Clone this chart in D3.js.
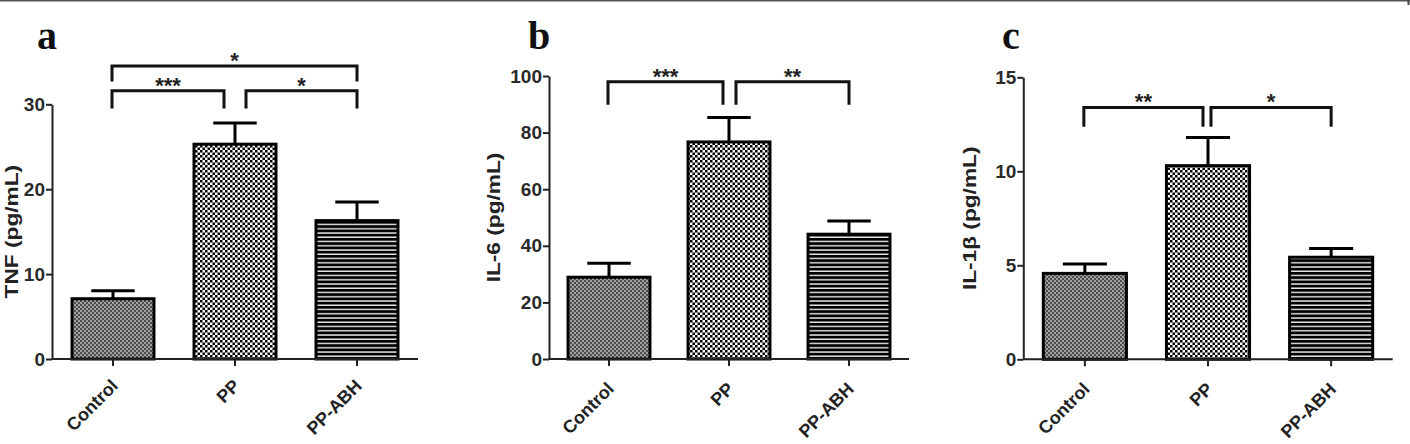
<!DOCTYPE html>
<html>
<head>
<meta charset="utf-8">
<script src="https://cdn.jsdelivr.net/npm/d3@7/dist/d3.min.js"></script>
<style>
  html, body { margin: 0; padding: 0; background: #fff; }
  svg { display: block; }
  text.sans { font-family: "Liberation Sans", Arial, sans-serif; }
  text.serif { font-family: "Liberation Serif", "Times New Roman", serif; }
</style>
</head>
<body>
<svg id="chart" width="1410" height="444"></svg>
<script>
// ---------- data ----------
const categories = ["Control", "PP", "PP-ABH"];

const tnfMeans  = [7.1, 25.3, 16.3];
const tnfSem    = [0.95, 2.5, 2.2];
const tnfTicks  = [0, 10, 20, 30];
const tnfSig    = [
  { from: 0, to: 1, label: "***", line: 31.6, leg: 29.5 },
  { from: 1, to: 2, label: "*",   line: 31.6, leg: 29.5 },
  { from: 0, to: 2, label: "*",   line: 34.5, leg: 32.7 }
];

const il6Means  = [28.9, 76.7, 44.1];
const il6Sem    = [4.9, 8.6, 4.7];
const il6Ticks  = [0, 20, 40, 60, 80, 100];
const il6Sig    = [
  { from: 0, to: 1, label: "***", line: 98.0, leg: 89.8 },
  { from: 1, to: 2, label: "**",  line: 98.0, leg: 89.8 }
];

const il1bMeans = [4.57, 10.3, 5.43];
const il1bSem   = [0.5, 1.5, 0.47];
const il1bTicks = [0, 5, 10, 15];
const il1bSig   = [
  { from: 0, to: 1, label: "**", line: 13.4, leg: 12.37 },
  { from: 1, to: 2, label: "*",  line: 13.4, leg: 12.37 }
];

// ---------- drawing ----------
const svg = d3.select("#chart");

// patterns
const defs = svg.append("defs");
const pCtl = defs.append("pattern").attr("id", "pCtl").attr("patternUnits", "userSpaceOnUse")
  .attr("width", 4).attr("height", 4);
pCtl.append("rect").attr("width", 4).attr("height", 4).attr("fill", "#a0a0a0");
pCtl.append("rect").attr("width", 2).attr("height", 2).attr("fill", "#4e4e4e");
pCtl.append("rect").attr("x", 2).attr("y", 2).attr("width", 2).attr("height", 2).attr("fill", "#4e4e4e");

const pPP = defs.append("pattern").attr("id", "pPP").attr("patternUnits", "userSpaceOnUse")
  .attr("width", 5).attr("height", 5);
pPP.append("rect").attr("width", 5).attr("height", 5).attr("fill", "#fff");
pPP.append("rect").attr("width", 2.5).attr("height", 2.5).attr("fill", "#000");
pPP.append("rect").attr("x", 2.5).attr("y", 2.5).attr("width", 2.5).attr("height", 2.5).attr("fill", "#000");

const pAbh = defs.append("pattern").attr("id", "pAbh").attr("patternUnits", "userSpaceOnUse")
  .attr("width", 10).attr("height", 4.25);
pAbh.append("rect").attr("width", 10).attr("height", 4.25).attr("fill", "#e8e8e8");
pAbh.append("rect").attr("width", 10).attr("height", 2.8).attr("fill", "#000");

const fills = ["url(#pCtl)", "url(#pPP)", "url(#pAbh)"];

// top frame line
svg.append("line").attr("x1", 0).attr("x2", 1410).attr("y1", 0.75).attr("y2", 0.75)
  .attr("stroke", "#555").attr("stroke-width", 1.5);
svg.append("line").attr("x1", 1408.5).attr("x2", 1408.5).attr("y1", 0).attr("y2", 5)
  .attr("stroke", "#444").attr("stroke-width", 2);

function drawPanel(p) {
  const g = svg.append("g");
  const x = d3.scaleBand().domain(categories).range([p.x0, p.x1])
    .paddingInner(p.pad).paddingOuter(p.pad / 2);
  const y = d3.scaleLinear().domain([0, d3.max(p.ticks)]).range([p.y0, p.yTop]);

  // bars
  g.selectAll("rect.bar").data(categories).join("rect")
    .attr("class", "bar")
    .attr("x", d => x(d))
    .attr("width", x.bandwidth())
    .attr("y", (d, i) => y(p.means[i]))
    .attr("height", (d, i) => y(0) - y(p.means[i]))
    .attr("fill", (d, i) => fills[i])
    .attr("stroke", "#000").attr("stroke-width", 3);

  // error bars (upper)
  const capW = x.bandwidth() * 0.53;
  categories.forEach((c, i) => {
    const cx = x(c) + x.bandwidth() / 2;
    g.append("line").attr("x1", cx).attr("x2", cx)
      .attr("y1", y(p.means[i])).attr("y2", y(p.means[i] + p.sem[i]))
      .attr("stroke", "#000").attr("stroke-width", 3);
    g.append("line").attr("x1", cx - capW / 2).attr("x2", cx + capW / 2)
      .attr("y1", y(p.means[i] + p.sem[i])).attr("y2", y(p.means[i] + p.sem[i]))
      .attr("stroke", "#000").attr("stroke-width", 3);
  });

  // y axis
  const ya = g.append("g").attr("transform", `translate(${p.x0},0)`)
    .call(d3.axisLeft(y).tickValues(p.ticks).tickSize(6).tickSizeOuter(0).tickPadding(1)
      .tickFormat(d3.format("d")));
  ya.attr("font-family", null).attr("font-size", null);
  ya.select(".domain").attr("stroke", "#222").attr("stroke-width", 2);
  ya.selectAll(".tick line").attr("stroke", "#222").attr("stroke-width", 2);
  ya.selectAll(".tick text").attr("class", "sans").attr("font-size", 19).attr("font-weight", "bold")
    .attr("fill", "#2a2a2a");

  // x axis
  const xa = g.append("g").attr("transform", `translate(0,${p.y0})`)
    .call(d3.axisBottom(x).tickSize(7).tickSizeOuter(0).tickFormat(""));
  xa.select(".domain").attr("stroke", "#222").attr("stroke-width", 2)
    .attr("d", `M${p.x0},0H${p.xEnd}`);
  xa.selectAll(".tick line").attr("stroke", "#222").attr("stroke-width", 2);

  // x labels
  categories.forEach(c => {
    const cx = x(c) + x.bandwidth() / 2;
    g.append("text").attr("class", "sans")
      .attr("transform", `translate(${cx + 6},${p.y0 + p.labDy}) rotate(-45)`)
      .attr("text-anchor", "end")
      .attr("font-size", 18).attr("font-weight", "bold").attr("fill", "#222")
      .text(c);
  });

  // y label
  g.append("text").attr("class", "sans")
    .attr("transform", `translate(${p.x0 + p.ylabDx},${(y(0) + y(d3.max(p.ticks))) / 2}) rotate(-90) scale(1.26,1)`)
    .attr("text-anchor", "middle")
    .attr("font-size", 18).attr("font-weight", "bold").attr("fill", "#222")
    .text(p.ylabel);

  // significance brackets
  p.sig.forEach(s => {
    const cFrom = x(categories[s.from]) + x.bandwidth() / 2;
    const cTo = x(categories[s.to]) + x.bandwidth() / 2;
    const adjacent = s.to - s.from === 1;
    let xl = cFrom - 1, xr = cTo;
    if (adjacent && s.to === 1) xr = cTo - p.gapL;
    if (adjacent && s.from === 1) xl = cFrom + p.gapR;
    const yl1 = y(s.line), yl2 = y(s.leg);
    g.append("path")
      .attr("d", `M${xl},${yl2}V${yl1}H${xr}V${yl2}`)
      .attr("fill", "none").attr("stroke", "#111").attr("stroke-width", 3)
      .attr("stroke-linejoin", "miter");
    g.append("text").attr("class", "sans")
      .attr("x", (xl + xr) / 2).attr("y", yl1 + 2)
      .attr("text-anchor", "middle")
      .attr("font-size", 22).attr("font-weight", "bold").attr("fill", "#222")
      .text(s.label);
  });

  // panel letter
  svg.append("text").attr("class", "serif").attr("x", p.letterX).attr("y", 49)
    .attr("font-weight", "bold").attr("font-size", 40).attr("fill", "#111")
    .text(p.letter);
}

drawPanel({ means: tnfMeans, sem: tnfSem, ticks: tnfTicks, sig: tnfSig,
  x0: 52, x1: 418, xEnd: 418, y0: 359, yTop: 104.3, pad: 0.328,
  gapL: 11, gapR: 11, labDy: 28, ylabDx: -34.5, ylabel: "TNF (pg/mL)",
  letter: "a", letterX: 37 });

drawPanel({ means: il6Means, sem: il6Sem, ticks: il6Ticks, sig: il6Sig,
  x0: 549, x1: 909, xEnd: 909, y0: 359, yTop: 76, pad: 0.317,
  gapL: 6, gapR: 7, labDy: 31, ylabDx: -49.5, ylabel: "IL-6 (pg/mL)",
  letter: "b", letterX: 528 });

drawPanel({ means: il1bMeans, sem: il1bSem, ticks: il1bTicks, sig: il1bSig,
  x0: 1023.3, x1: 1392.7, xEnd: 1392.7, y0: 359.3, yTop: 77.3, pad: 0.325,
  gapL: 5, gapR: 3, labDy: 31, ylabDx: -47, ylabel: "IL-1β (pg/mL)",
  letter: "c", letterX: 1002 });
</script>
</body>
</html>
